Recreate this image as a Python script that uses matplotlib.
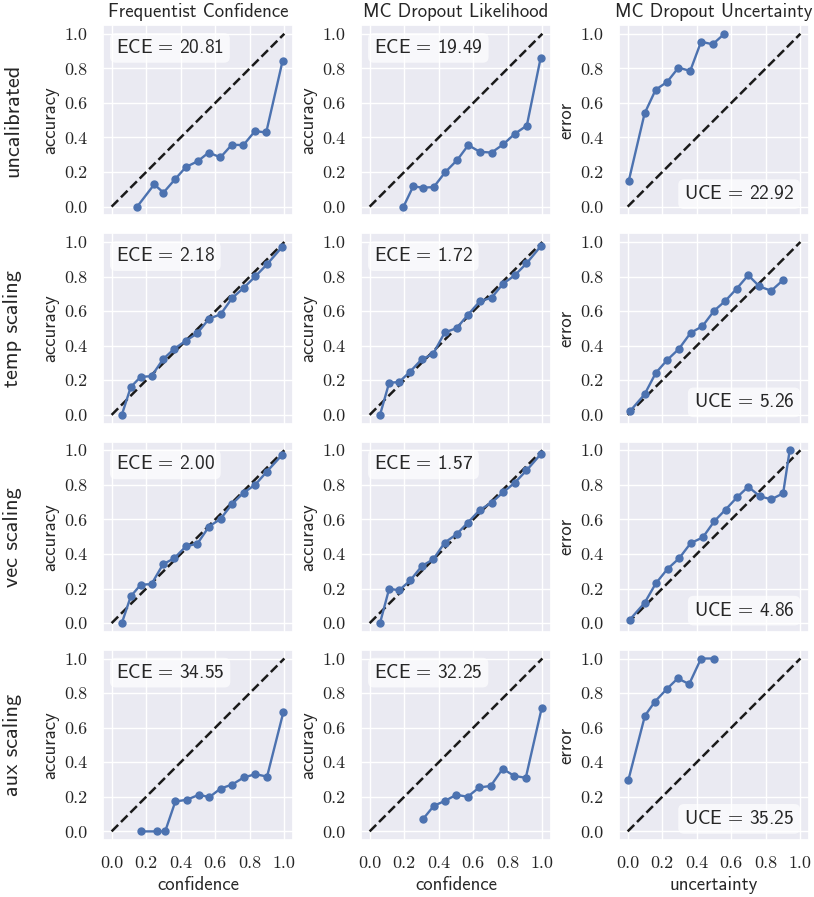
import matplotlib
matplotlib.use("Agg")
import matplotlib.pyplot as plt
import seaborn as sns

sns.set_theme(style="darkgrid")
plt.rcParams["font.family"] = ["cmss10", "DejaVu Sans"]
plt.rcParams["mathtext.fontset"] = "cm"
plt.rcParams["axes.formatter.use_mathtext"] = True

# column / row names
methods = ["Frequentist Confidence", "MC Dropout Likelihood", "MC Dropout Uncertainty"]
calibrations = ["uncalibrated", "temp scaling", "vec scaling", "aux scaling"]

# frequentist confidence
freq_uncal_x = [0.148, 0.247, 0.30, 0.367, 0.43, 0.499, 0.562, 0.63, 0.696, 0.763, 0.83, 0.895, 0.99]
freq_uncal_y = [0.0, 0.129, 0.081, 0.158, 0.229, 0.263, 0.313, 0.285, 0.358, 0.356, 0.437, 0.429, 0.844]
freq_temp_x = [0.059, 0.111, 0.168, 0.231, 0.298, 0.361, 0.43, 0.495, 0.564, 0.631, 0.698, 0.765, 0.832, 0.899, 0.987]
freq_temp_y = [0.0, 0.161, 0.22, 0.224, 0.322, 0.381, 0.429, 0.471, 0.556, 0.582, 0.676, 0.735, 0.801, 0.87, 0.971]
freq_vec_x = [0.059, 0.111, 0.168, 0.231, 0.298, 0.361, 0.43, 0.497, 0.564, 0.631, 0.698, 0.765, 0.832, 0.899, 0.987]
freq_vec_y = [0.0, 0.155, 0.222, 0.226, 0.341, 0.374, 0.444, 0.46, 0.559, 0.603, 0.69, 0.755, 0.801, 0.877, 0.973]
freq_aux_x = [0.172, 0.262, 0.31, 0.369, 0.436, 0.505, 0.566, 0.631, 0.698, 0.765, 0.832, 0.9, 0.994]
freq_aux_y = [0.0, 0.0, 0.0, 0.173, 0.183, 0.212, 0.198, 0.248, 0.271, 0.312, 0.331, 0.317, 0.688]

# mc dropout likelihood
mcl_uncal_x = [0.196, 0.252, 0.308, 0.371, 0.438, 0.508, 0.571, 0.638, 0.706, 0.773, 0.84, 0.91, 0.99]
mcl_uncal_y = [0.0, 0.117, 0.11, 0.113, 0.2, 0.271, 0.356, 0.317, 0.313, 0.36, 0.421, 0.469, 0.86]
mcl_temp_x = [0.06, 0.113, 0.171, 0.235, 0.302, 0.367, 0.435, 0.504, 0.569, 0.638, 0.706, 0.773, 0.84, 0.908, 0.992]
mcl_temp_y = [0.0, 0.186, 0.19, 0.251, 0.322, 0.352, 0.477, 0.502, 0.579, 0.657, 0.678, 0.759, 0.807, 0.876, 0.977]
mcl_vec_x = [0.06, 0.113, 0.171, 0.235, 0.302, 0.369, 0.435, 0.504, 0.569, 0.638, 0.706, 0.773, 0.84, 0.908, 0.992]
mcl_vec_y = [0.0, 0.199, 0.19, 0.247, 0.33, 0.37, 0.466, 0.515, 0.582, 0.655, 0.697, 0.757, 0.812, 0.883, 0.979]
mcl_aux_x = [0.307, 0.372, 0.437, 0.502, 0.567, 0.634, 0.701, 0.77, 0.837, 0.904, 0.996]
mcl_aux_y = [0.069, 0.148, 0.177, 0.212, 0.2, 0.254, 0.263, 0.362, 0.321, 0.31, 0.713]

# mc dropout uncertainty
mcu_uncal_x = [0.006, 0.098, 0.162, 0.229, 0.294, 0.362, 0.425, 0.492, 0.56]
mcu_uncal_y = [0.148, 0.539, 0.676, 0.722, 0.804, 0.785, 0.954, 0.939, 1.0]
mcu_temp_x = [0.013, 0.098, 0.163, 0.229, 0.296, 0.365, 0.433, 0.5, 0.565, 0.631, 0.698, 0.763, 0.831, 0.9]
mcu_temp_y = [0.021, 0.119, 0.243, 0.318, 0.381, 0.475, 0.513, 0.602, 0.659, 0.73, 0.808, 0.743, 0.718, 0.78]
mcu_vec_x = [0.013, 0.098, 0.163, 0.231, 0.298, 0.365, 0.435, 0.502, 0.567, 0.635, 0.698, 0.765, 0.831, 0.9, 0.938]
mcu_vec_y = [0.021, 0.117, 0.23, 0.314, 0.375, 0.463, 0.496, 0.59, 0.657, 0.73, 0.789, 0.734, 0.716, 0.751, 1.0]
mcu_aux_x = [0.004, 0.1, 0.158, 0.227, 0.29, 0.356, 0.425, 0.502]
mcu_aux_y = [0.297, 0.669, 0.751, 0.824, 0.885, 0.852, 1.0, 1.0]

ece_freq = [20.81, 2.18, 2.00, 34.55]
ece_mcl = [19.49, 1.72, 1.57, 32.25]
uce_mcu = [22.92, 5.26, 4.86, 35.25]

curves = [
    [(freq_uncal_x, freq_uncal_y), (mcl_uncal_x, mcl_uncal_y), (mcu_uncal_x, mcu_uncal_y)],
    [(freq_temp_x, freq_temp_y), (mcl_temp_x, mcl_temp_y), (mcu_temp_x, mcu_temp_y)],
    [(freq_vec_x, freq_vec_y), (mcl_vec_x, mcl_vec_y), (mcu_vec_x, mcu_vec_y)],
    [(freq_aux_x, freq_aux_y), (mcl_aux_x, mcl_aux_y), (mcu_aux_x, mcu_aux_y)],
]
scores = [ece_freq, ece_mcl, uce_mcu]
ylabels = ["accuracy", "accuracy", "error"]
xlabels = ["confidence", "confidence", "uncertainty"]

fig, axes = plt.subplots(4, 3, figsize=(8.14, 8.97), dpi=100, sharex=True)
fig.subplots_adjust(left=0.1265, right=0.9939, top=0.972, bottom=0.0635,
                    wspace=0.358, hspace=0.095)

ticks = [0.0, 0.2, 0.4, 0.6, 0.8, 1.0]
for i in range(4):
    for j in range(3):
        ax = axes[i, j]
        x, y = curves[i][j]
        ax.plot([0, 1], [0, 1], "k--", lw=1.8)
        ax.plot(x, y, "-o", color="#4C72B0", lw=1.7, ms=5)
        ax.set_xlim(-0.05, 1.05)
        ax.set_ylim(-0.05, 1.05)
        ax.set_xticks(ticks)
        ax.set_yticks(ticks)
        ax.set_yticklabels(["%.1f" % t for t in ticks])
        ax.set_xticklabels(["%.1f" % t for t in ticks])
        ax.tick_params(axis="both", labelsize=13, pad=5)
        for lab in ax.get_xticklabels() + ax.get_yticklabels():
            lab.set_fontfamily("cmr10")
        ax.set_ylabel(ylabels[j], fontsize=13.5)
        if i == 3:
            ax.set_xlabel(xlabels[j], fontsize=13.5)
        if i == 0:
            ax.set_title(methods[j], fontsize=13.5)

        box = dict(boxstyle="round,pad=0.3", fc="white", ec="none", alpha=0.7)
        if j < 2:
            ax.text(0.068, 0.854, "ECE$\\,=\\,$%.2f" % scores[j][i], transform=ax.transAxes,
                    fontsize=14, ha="left", va="baseline", bbox=box)
        else:
            ax.text(0.923, 0.085, "UCE$\\,=\\,$%.2f" % scores[j][i], transform=ax.transAxes,
                    fontsize=14, ha="right", va="baseline", bbox=box)

    pos = axes[i, 0].get_position()
    fig.text(13 / 814, (pos.y0 + pos.y1) / 2, calibrations[i], rotation=90,
             ha="center", va="center", fontsize=16)

fig.savefig("out.png", dpi=100)
